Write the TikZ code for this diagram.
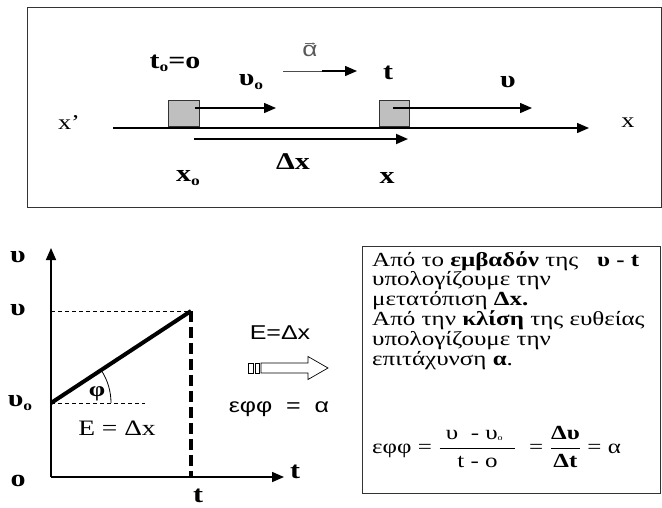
\documentclass[tikz,border=0pt]{standalone}
\usepackage{fontspec}
\usepackage{amsmath}
\setmainfont{Liberation Serif}
\newfontfamily\sansf{Liberation Sans}
\usetikzlibrary{arrows.meta}
\newcommand{\wide}[1]{\scalebox{1.25}[1]{#1}}
\newcommand{\subo}{\raisebox{-0.3ex}{\fontsize{14}{14}\selectfont o}}
\tikzset{
  lbl/.style={font=\fontsize{24}{24}\selectfont\bfseries, inner sep=0pt},
  rlbl/.style={font=\fontsize{21}{21}\selectfont, inner sep=0pt},
  slbl/.style={font=\sansf\fontsize{20}{20}\selectfont, inner sep=0pt},
  btxt/.style={font=\fontsize{20}{18.5}\selectfont, inner sep=0pt},
  arr/.style={line width=1.4pt, -{Triangle[length=12pt,width=10pt]}},
  frame/.style={line width=0.9pt, draw=black!80},
  block/.style={draw=black!80, line width=0.9pt, fill=black!25},
  thindash/.style={line width=0.8pt, dash pattern=on 4pt off 3pt},
}
\begin{document}
\begin{tikzpicture}[x=1pt,y=-1pt]
\useasboundingbox (0,0) rectangle (662,507);
% ---------- top panel ----------
\draw[frame] (27,7) rectangle (661,207);
\coordinate (axS) at (113,128);
\coordinate (axE) at (589,128);
\draw[arr] (axS) -- (axE);
\node[block, minimum width=31pt, minimum height=26pt, anchor=south west] (b1) at (168,127) {};
\node[block, minimum width=30pt, minimum height=26pt, anchor=south west] (b2) at (379,127) {};
\coordinate (v0e) at (276,108);
\coordinate (ve) at (532,108);
\draw[arr] (195,108) coordinate (v0s) -- (v0e);
\draw[arr] (393,108) coordinate (vs) -- (ve);
\coordinate (dxs) at (194,139);
\coordinate (dxe) at (408,139);
\draw[arr, line width=1.8pt] (dxs) -- (dxe);
\coordinate (a1) at (283,71);
\coordinate (a2) at (322,71);
\coordinate (a3) at (357,71);
\draw[line width=0.5pt, black!70] (a1) -- (a2);
\draw[arr] (a2) -- (a3);
\node[rlbl] (xp) at (69,123) {\wide{x’}};
\node[rlbl] (xr) at (628,123) {\wide{x}};
\node[lbl] (t0) at (175,63) {\wide{t\subo=o}};
\node[lbl] (lv0) at (251,82) {\wide{υ\subo}};
\node[lbl] (lt) at (388,73) {\wide{t}};
\node[lbl] (lv) at (508,82) {\wide{υ}};
\node[lbl] (ldx) at (293,162) {\wide{Δx}};
\node[lbl] (lx0) at (188,178) {\wide{x\subo}};
\node[lbl] (lx) at (387,178) {\wide{x}};
\node[slbl, text=black!65, font=\sansf\fontsize{21}{21}\selectfont] (alpha) at (310,51) {\wide{α}};
\draw[line width=0.4pt, black!60, -{Stealth[length=2.5pt,width=2.5pt]}] ([xshift=-5pt,yshift=1.5pt]alpha.north) -- ([xshift=5pt,yshift=1.5pt]alpha.north);
% ---------- graph ----------
\coordinate (O) at (51,477);
\coordinate (vtop) at (51,248);
\coordinate (tend) at (284,477);
\coordinate (P0) at (51,403);
\coordinate (P1) at (191,311);
\coordinate (Pv) at (51,311);
\coordinate (Pt) at (191,477);
\coordinate (Ph) at (145,403);
\draw[arr, line width=1.6pt] (O) -- (vtop);
\draw[arr, line width=1.6pt] (O) -- (tend);
\draw[thindash] (Pv) -- (P1);
\draw[thindash] (P0) -- (Ph);
\draw[line width=3.5pt, dash pattern=on 11pt off 5pt] (P1) -- (Pt);
\draw[line width=4pt] (P0) -- (P1);
\draw[line width=0.8pt] (111,403) arc[start angle=0, end angle=33, radius=60pt];
\node[lbl] (gv) at (18,257) {\wide{υ}};
\node[lbl] (gvv) at (18,310) {\wide{υ}};
\node[lbl] (gv0) at (20,403) {\wide{υ\subo}};
\node[lbl] (go) at (18,481) {\wide{o}};
\node[lbl] (gt) at (295,472) {\wide{t}};
\node[lbl] (gtb) at (198,496) {\wide{t}};
\node[lbl, font=\fontsize{21}{21}\selectfont\bfseries] (phi) at (97,394) {\wide{φ}};
\node[rlbl, font=\fontsize{22}{22}\selectfont] (E) at (117,428) {\wide{E = Δx}};
% ---------- middle ----------
\node[slbl] (E2) at (280,333) {\wide{E=Δx}};
\node[slbl] (ef) at (279,409) {\wide{εφφ \ = \ α}};
\draw[line width=0.7pt, fill=white] (261,363) -- (308,363) -- (308,356.5) -- (328,368) -- (308,379.5) -- (308,373) -- (261,373) -- cycle;
\draw[line width=0.7pt] (248.5,363) rectangle (253.5,373);
\draw[line width=0.7pt] (255,363) rectangle (259.5,373);
% ---------- right box ----------
\draw[frame] (362,246) rectangle (660,493);
\node[btxt, anchor=north west] (txt) at (372,251) {\wide{\begin{tabular}{@{}l@{}}
Από το \textbf{εμβαδόν} της \ \ \textbf{υ - t}\\
υπολογίζουμε την\\
μετατόπιση \textbf{Δx.}\\
Από την \textbf{κλίση} της ευθείας\\
υπολογίζουμε την\\
επιτάχυνση \textbf{α}.
\end{tabular}}};
\node[btxt, anchor=west] (formula) at (372,447) {\wide{$\text{εφφ =}\ \dfrac{\text{\ υ \ - υ\raisebox{-0.1ex}{\fontsize{8}{8}\selectfont o}\ \ }}{\text{t - o}}\ \ \text{=}\ \dfrac{\text{\textbf{Δυ}}}{\text{\textbf{Δt}}}\ \text{= α}$}};
\end{tikzpicture}
\end{document}
